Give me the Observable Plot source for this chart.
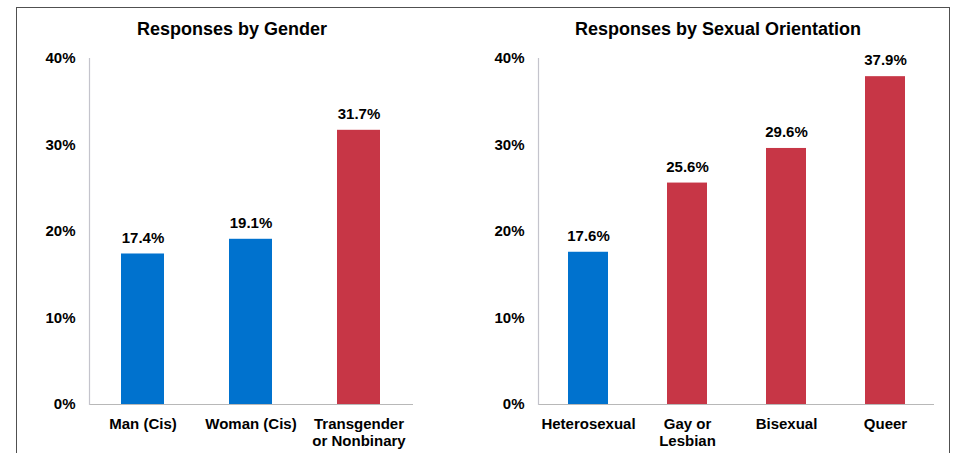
<!DOCTYPE html>
<html>
<head>
<meta charset="utf-8">
<script src="https://cdn.jsdelivr.net/npm/d3@7"></script>
<script src="https://cdn.jsdelivr.net/npm/@observablehq/plot@0.6"></script>
<style>
  html, body { margin: 0; padding: 0; background: #fff; }
  #wrap { position: relative; width: 957px; height: 453px; overflow: hidden; font-family: "Liberation Sans", Arial, sans-serif; }
  .panel { position: absolute; top: 0; }
  .title { position: absolute; top: 19px; font-size: 18px; font-weight: bold; color: #000; transform: translateX(-50%); white-space: nowrap; }
  #border { position: absolute; left: 16px; top: 7px; width: 934px; height: 470px; border: 1.2px solid #505050; pointer-events: none; box-sizing: border-box; }
</style>
</head>
<body>
<div id="wrap">
  <div id="left" class="panel" style="left:0px"></div>
  <div id="right" class="panel" style="left:478px"></div>
  <div class="title" style="left:232px">Responses by Gender</div>
  <div class="title" style="left:718px">Responses by Sexual Orientation</div>
  <div id="border"></div>
</div>
<script>
const genderCategories = ["Man (Cis)", "Woman (Cis)", "Transgender\nor Nonbinary"];
const genderValues = [17.4, 19.1, 31.7];
const genderGroups = ["cis", "cis", "other"];

const orientationCategories = ["Heterosexual", "Gay or\nLesbian", "Bisexual", "Queer"];
const orientationValues = [17.6, 25.6, 29.6, 37.9];
const orientationGroups = ["cis", "other", "other", "other"];

const yTicks = [0, 10, 20, 30, 40];
const groupDomain = ["cis", "other"];
const groupColors = ["#0072CE", "#C73646"];

function panel(cats, vals, groups, width, marginLeft, marginRight) {
  const data = cats.map((c, i) => ({cat: c, value: vals[i], group: groups[i]}));
  return Plot.plot({
    width,
    height: 453,
    marginTop: 58,
    marginBottom: 49,
    marginLeft,
    marginRight,
    style: {background: "transparent", fontFamily: "'Liberation Sans', Arial, sans-serif", fontSize: "15px", fontWeight: "bold", color: "#000"},
    x: {domain: cats, paddingInner: 0.6, paddingOuter: 0.3, label: null},
    y: {domain: [0, 40], label: null},
    color: {domain: groupDomain, range: groupColors},
    marks: [
      Plot.barY(data, {x: "cat", y: "value", fill: "group"}),
      Plot.text(data, {x: "cat", y: "value", text: d => d.value.toFixed(1) + "%", dy: -16, fontSize: 15, fontWeight: "bold", fill: "#000"}),
      Plot.ruleY([0], {stroke: "#b8b8b8", strokeWidth: 1.2}),
      Plot.frame({anchor: "left", stroke: "#c4c4cc", strokeWidth: 1.2}),
      Plot.axisY({ticks: yTicks, tickSize: 0, tickPadding: 14, tickFormat: d => d + "%", fontSize: 15, fontWeight: "bold", fill: "#000", label: null}),
      Plot.axisX({tickSize: 0, tickPadding: 13, fontSize: 15, fontWeight: "bold", fill: "#000", lineHeight: 1.1, label: null})
    ]
  });
}

document.getElementById("left").append(panel(genderCategories, genderValues, genderGroups, 478, 89, 65));
document.getElementById("right").append(panel(orientationCategories, orientationValues, orientationGroups, 479, 60, 23));
</script>
</body>
</html>
